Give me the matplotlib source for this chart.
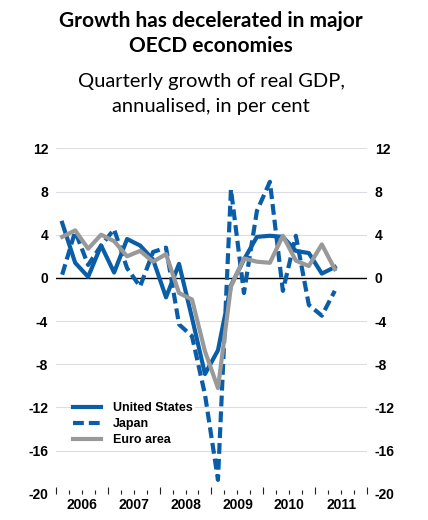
import matplotlib
matplotlib.use("Agg")
import matplotlib.pyplot as plt
import numpy as np

# ---- data (annualised quarterly growth, %) 2006Q1 .. 2011Q2 ----
quarters = [f"{y}Q{q}" for y in range(2006, 2012) for q in range(1, 5)][:22]
us = [5.1, 1.4, 0.1, 3.0, 0.5, 3.6, 3.0, 1.7, -1.8, 1.3, -3.7, -8.9,
      -6.7, -0.7, 1.7, 3.8, 3.9, 3.8, 2.5, 2.3, 0.4, 1.0]
japan = [0.3, 4.3, 1.2, 3.0, 4.5, 0.9, -0.8, 2.4, 2.8, -4.3, -5.4, -10.8,
         -18.7, 8.2, -1.4, 6.2, 8.9, -1.2, 3.9, -2.5, -3.5, -1.2]
euro = [3.8, 4.4, 2.7, 4.0, 3.4, 2.0, 2.5, 1.5, 2.2, -1.4, -2.0, -6.8,
        -10.2, -0.8, 1.8, 1.5, 1.4, 3.9, 1.6, 1.1, 3.1, 0.8]
years = ["2006", "2007", "2008", "2009", "2010", "2011"]
yticks = [-20, -16, -12, -8, -4, 0, 4, 8, 12]
series_names = ["United States", "Japan", "Euro area"]

BLUE = "#0a5ea8"
GREY = "#999999"
TICKFONT = "Liberation Sans"
TITLEFONT = "Lato"

fig = plt.figure(figsize=(4.28, 5.20), dpi=100)
ax = fig.add_axes([0.1301, 0.0502, 0.728, 0.6646])

x = np.arange(len(us)) + 0.5
lw = 3.0
ax.plot(x, us, color=BLUE, lw=lw, zorder=3, label=series_names[0])
ax.plot(x, japan, color=BLUE, lw=lw, zorder=4, label=series_names[1],
        linestyle=(0, (2.6, 1.2)))
ax.plot(x, euro, color=GREY, lw=lw, zorder=5, label=series_names[2])

ax.set_xlim(0, 4 * len(years))
ax.set_ylim(-20, 12)
ax.set_yticks(yticks)
ax.set_yticklabels([str(v) for v in yticks])
for v in yticks:
    if v not in (0, -20):
        ax.axhline(v, color="#dcdce6", lw=0.8, zorder=1)
ax.axhline(0, color="black", lw=1.0, zorder=2)

for s in ax.spines.values():
    s.set_visible(False)

ax.tick_params(axis="y", length=0, pad=5.5, labelright=True, labelleft=True)
for lab in ax.get_yticklabels():
    lab.set_fontfamily(TICKFONT)
    lab.set_fontweight("bold")
    lab.set_fontsize(10)

# quarter / year ticks at the bottom
ax.set_xticks(np.arange(0, 4 * len(years) + 1, 4))
ax.set_xticks(np.arange(0, 4 * len(years) + 1, 1), minor=True)
ax.tick_params(axis="x", which="major", direction="in", length=5.2,
               width=0.8, color="#222222", labelbottom=False)
ax.tick_params(axis="x", which="minor", direction="in", length=2.6,
               width=0.8, color="#222222")

sec = ax.secondary_xaxis("bottom")
sec.set_xticks(np.arange(len(years)) * 4 + 2)
sec.set_xticklabels(years)
sec.tick_params(length=0, pad=3)
sec.spines["bottom"].set_visible(False)
for lab in sec.get_xticklabels():
    lab.set_fontfamily(TICKFONT)
    lab.set_fontweight("bold")
    lab.set_fontsize(10)

leg = ax.legend(loc="upper left", bbox_to_anchor=(0.03, 0.289),
                frameon=True, facecolor="white", edgecolor="none",
                framealpha=1, borderpad=0.15, handlelength=2.2,
                handletextpad=1.0, labelspacing=0.32,
                prop={"family": TICKFONT, "weight": "bold", "size": 9})
leg.set_zorder(6)

# titles
cx = 211 / 428
fig.text(cx, 1 - 26.7 / 520, "Growth has decelerated in major", ha="center",
         va="baseline", fontfamily=TITLEFONT, fontweight="bold", fontsize=15)
fig.text(cx, 1 - 51.7 / 520, "OECD economies", ha="center",
         va="baseline", fontfamily=TITLEFONT, fontweight="bold", fontsize=15)
fig.text(cx, 1 - 87.3 / 520, "Quarterly growth of real GDP,", ha="center",
         va="baseline", fontfamily=TITLEFONT, fontsize=14.5)
fig.text(cx, 1 - 111.7 / 520, "annualised, in per cent", ha="center",
         va="baseline", fontfamily=TITLEFONT, fontsize=14.5)

fig.savefig("out.png", dpi=100)
